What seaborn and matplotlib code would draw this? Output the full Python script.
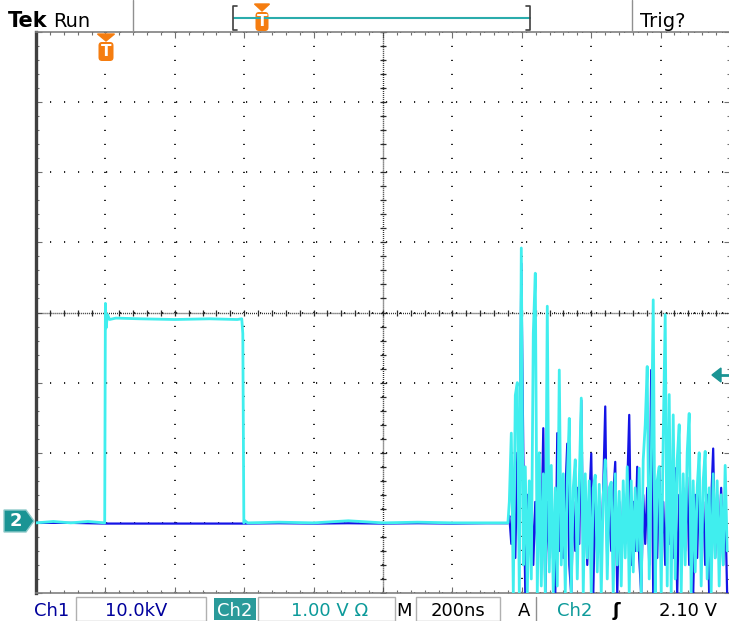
import numpy as np
import pandas as pd
import matplotlib
matplotlib.use("Agg")
import matplotlib.pyplot as plt
import seaborn as sns
from matplotlib.patches import Polygon, FancyBboxPatch, Rectangle
from matplotlib.lines import Line2D

ns_per_div = 200          # M 200ns
ch2_v_per_div = 1.0       # Ch2 1.00 V
ch1_kv_per_div = 10.0     # Ch1 10.0kV
trigger_level_v = 2.10

# Ch2 (cyan) : rectangular pulse, then quiet baseline
ch2_pulse_t = [-200, -150, -100, -50, -2, 0, 2, 6, 12, 30, 100, 200, 300, 380, 393, 396, 399, 402, 410,
               500, 600, 700, 800, 900, 1000, 1100, 1160]
ch2_pulse_v = [0.0, 0.02, 0.0, 0.02, 0.0, 3.13, 2.78, 2.97, 2.90, 2.92, 2.91, 2.90, 2.91, 2.90, 2.91, 2.70, 0.0,
               0.03, 0.0, 0.01, 0.0, 0.03, 0.0, 0.01, 0.0, 0.0, 0.0]

# burst region, samples every ~5.8 ns starting at 1164 ns
noise_start_ns = 1164
noise_step_ns = 5.76
ch2_noise_v = [0.3, 1.28, -1.0, 1.82, 2.0, -1.0, 3.92, -0.6, 0.8, -1.0,
               0.6, -0.8, 2.7, 3.56, -1.0, 1.0, -0.9, 0.7, -1.0, 3.09,
               -0.7, 0.82, -1.0, 0.5, -0.9, 2.18, -0.6, 0.7, -1.0, 0.6,
               1.49, -1.0, 0.5, 0.9, -0.8, 0.6, 1.78, -1.0, 0.7, -0.5,
               0.6, -1.0, 0.5, 0.68, -0.7, 0.55, -1.0, 0.4, 0.9, -0.8,
               0.5, 0.58, -1.0, 0.7, -0.6, 0.45, -0.9, 0.6, -0.5, 0.8,
               -1.0, 0.6, -0.7, 0.5, -0.4, 0.78, -1.0, 0.9, 1.4, 2.23,
               -0.8, 0.8, 3.18, -1.0, 0.6, 0.8, -1.0, 1.2, 2.97, -0.9,
               1.83, -1.0, 1.54, -0.8, 0.9, 1.4, -1.0, 0.7, -0.6, 1.0,
               1.56, -1.0, 0.6, -0.7, 0.5, 1.0, -0.9, 0.6, 1.02, -0.8,
               0.5, -1.0, 0.7, -0.5, 0.6, -0.9, 0.4, -0.6, 0.82, -0.4]

# Ch1 (blue), kV
ch1_base_t = [-200, -100, 0, 100, 200, 300, 400, 500, 600, 700, 800, 900, 1000, 1100, 1160]
ch1_base_kv = [0.0, 0.0, -0.1, -0.1, -0.1, -0.1, -0.1, -0.05, -0.1, -0.05, -0.1, -0.05, -0.1, -0.05, -0.05]
ch1_noise_kv = [1, -3, 4, -5, 10, -4, 37, 10, -10.3, 4,
                -3, 5, -6, 3, -4, 5, -3, 13.5, -10.3, 3,
                -5, 4, -6, -10.3, 12.8, -4, 3, -5, 4, 11.3,
                -6, -10.3, 3, -4, 5, -3, 17.5, -5, 4, -6,
                3, 9.9, -10.3, 4, -5, 3, -4, 5, 16.6, -6,
                3, -4, 4, 8.7, -10.3, 3, -5, 4, -3, 5,
                15.4, -6, 3, -4, 8, -5, -10.3, 4, -3, 5,
                -6, 21.8, -10.3, 4, -5, 8, -4, 3, -6, 4,
                -3, 5, -5, 7.8, -10.3, 4, -3, 5, -4, 6.5,
                -6, 3, -10.3, 4, -5, 6.5, -4, 3, -6, 4,
                -10.3, 3, 10.6, -5, 4, -3, 5, -6, 3, -10.3]

header_left = ["Tek", "Run"]
header_right = "Trig?"
footer_labels = ["Ch1", "10.0kV", "Ch2", "1.00 V \u03a9", "M", "200ns", "A", "Ch2", "\u0283", "2.10 V"]

# ---------------- build frames ----------------
noise_t = noise_start_ns + noise_step_ns * np.arange(len(ch2_noise_v))
ch2 = pd.DataFrame({"t": np.concatenate([ch2_pulse_t, noise_t]),
                    "div": np.concatenate([ch2_pulse_v, ch2_noise_v]) / ch2_v_per_div})
ch1 = pd.DataFrame({"t": np.concatenate([ch1_base_t, noise_t]),
                    "div": np.concatenate([ch1_base_kv, ch1_noise_kv]) / ch1_kv_per_div})

sns.set_style("white")
plt.rcParams["font.family"] = ["DejaVu Sans"]

W, H = 729, 621
fig = plt.figure(figsize=(W / 100, H / 100), dpi=100)
fig.patch.set_facecolor("white")

L, R, T, B = 36, 730, 32, 593
ax = fig.add_axes([L / W, 1 - B / H, (R - L) / W, (B - T) / H])
ax.set_xlim(-1 * ns_per_div, 9 * ns_per_div)
ax.set_ylim(-1.0, 7.0)

# graticule
major_x = np.arange(-200, 1801, ns_per_div)
major_y = np.arange(-1, 7.01, 1)
ax.set_xticks(major_x)
ax.set_yticks(major_y)
ax.set_xticks(np.arange(-200, 1801, ns_per_div / 5), minor=True)
ax.set_yticks(np.arange(-1, 7.01, 0.2), minor=True)
ax.tick_params(which="both", direction="in", top=True, right=True, bottom=True, left=True,
               labelbottom=False, labelleft=False, color="#707070", width=0.8)
ax.tick_params(which="major", length=4)
ax.tick_params(which="minor", length=2.2)
ax.grid(which="major", color="#000000", linestyle=(0, (0.7, 7.7)), linewidth=1.2)
for s in ["top", "bottom", "right"]:
    ax.spines[s].set_color("#808080")
    ax.spines[s].set_linewidth(1.2)
ax.spines["left"].set_color("#404040")
ax.spines["left"].set_linewidth(2.4)

# centre lines with dense dots and small cross ticks
cx, cy = 800, 3.0
ax.axhline(cy, color="#2a2a2a", linestyle=(0, (0.7, 0.75)), linewidth=1.0, zorder=1)
ax.axvline(cx, color="#2a2a2a", linestyle=(0, (0.7, 0.75)), linewidth=1.0, zorder=1)
ax.plot(np.arange(-200, 1801, 40), np.full(51, cy), ls="none", marker="|", ms=5, mew=0.9, color="#2a2a2a", zorder=1)
ax.plot(np.full(41, cx), np.arange(-1, 7.01, 0.2), ls="none", marker="_", ms=5, mew=0.9, color="#2a2a2a", zorder=1)

# traces
sns.lineplot(data=ch1, x="t", y="div", ax=ax, color="#1414e6", linewidth=1.6, sort=False, estimator=None, zorder=3)
sns.lineplot(data=ch2, x="t", y="div", ax=ax, color="#40eeee", linewidth=2.0, sort=False, estimator=None, zorder=4)
ax.set_xlabel("")
ax.set_ylabel("")

# ---------------- overlay in pixel coordinates ----------------
ov = fig.add_axes([0, 0, 1, 1], zorder=10)
ov.set_xlim(0, W)
ov.set_ylim(H, 0)
ov.axis("off")
ov.patch.set_alpha(0)

orange = "#f57d10"
teal = "#1a9494"
gray = "#909090"

# header
ov.text(8, 27, header_left[0], fontsize=15, fontweight="bold", color="black", ha="left", va="baseline")
ov.text(53, 27, header_left[1], fontsize=14, color="black", ha="left", va="baseline")
ov.text(640, 27, header_right, fontsize=14, color="black", ha="left", va="baseline")
ov.add_line(Line2D([133, 133], [0, 32], color=gray, lw=1))
ov.add_line(Line2D([632, 632], [0, 32], color=gray, lw=1))
ov.add_line(Line2D([234, 530], [18, 18], color="#2aacac", lw=1.5))
ov.add_line(Line2D([237, 233, 233, 237], [6, 6, 30, 30], color="#404040", lw=1.2))
ov.add_line(Line2D([526, 530, 530, 526], [6, 6, 30, 30], color="#404040", lw=1.2))


def t_marker(x, ytop, h, w):
    ov.add_patch(Polygon([[x - w / 2 - 1, ytop], [x + w / 2 + 1, ytop], [x, ytop + 7]], closed=True, color=orange))
    ov.add_patch(FancyBboxPatch((x - w / 2, ytop + 8), w, h, boxstyle="round,pad=0,rounding_size=3.5",
                                color=orange, lw=0))
    ov.text(x, ytop + 8 + h / 2 + 0.5, "T", fontsize=11, fontweight="bold", color="white", ha="center", va="center")


t_marker(262, 4, 19, 13)
t_marker(106, 34, 19, 15)

# channel 2 ground marker
ov.add_patch(Polygon([[4, 510], [26, 510], [34, 521], [26, 532], [4, 532]], closed=True,
                     facecolor=teal, edgecolor="#8fcaca", lw=1))
ov.text(15.5, 521.5, "2", fontsize=13, fontweight="bold", color="white", ha="center", va="center")

# trigger level arrow
ov.add_patch(Polygon([[712, 375], [721, 368], [721, 382]], closed=True, color=teal))
ov.add_line(Line2D([719, 729], [375, 375], color=teal, lw=2))

# footer
for (x0, x1) in [(76, 206), (258, 395), (416, 500)]:
    ov.add_patch(Rectangle((x0, 597), x1 - x0, 24, fill=False, edgecolor="#b0b0b0", lw=1))
ov.add_patch(Rectangle((214, 598), 42, 22, color="#2a9a9a", lw=0))
ov.add_line(Line2D([536, 536], [597, 621], color=gray, lw=1))

dark_blue = "#00009c"
fy = 615.5
fs = 13
ov.text(52, fy, footer_labels[0], fontsize=fs, color=dark_blue, ha="center", va="baseline")
ov.text(136, fy, footer_labels[1], fontsize=fs, color=dark_blue, ha="center", va="baseline")
ov.text(235, fy, footer_labels[2], fontsize=fs, color="white", ha="center", va="baseline")
ov.text(330, fy, footer_labels[3], fontsize=fs, color="#0c9a9a", ha="center", va="baseline")
ov.text(404, fy, footer_labels[4], fontsize=fs, color="black", ha="center", va="baseline")
ov.text(458, fy, footer_labels[5], fontsize=fs, color="black", ha="center", va="baseline")
ov.text(524, fy, footer_labels[6], fontsize=fs, color="black", ha="center", va="baseline")
ov.text(575, fy, footer_labels[7], fontsize=fs, color="#0c9a9a", ha="center", va="baseline")
ov.text(616, fy, footer_labels[8], fontsize=fs, color="black", fontweight="bold", ha="center", va="baseline")
ov.text(659, fy, footer_labels[9], fontsize=fs, color="black", ha="left", va="baseline")

fig.savefig("out.png", dpi=100, facecolor="white")
